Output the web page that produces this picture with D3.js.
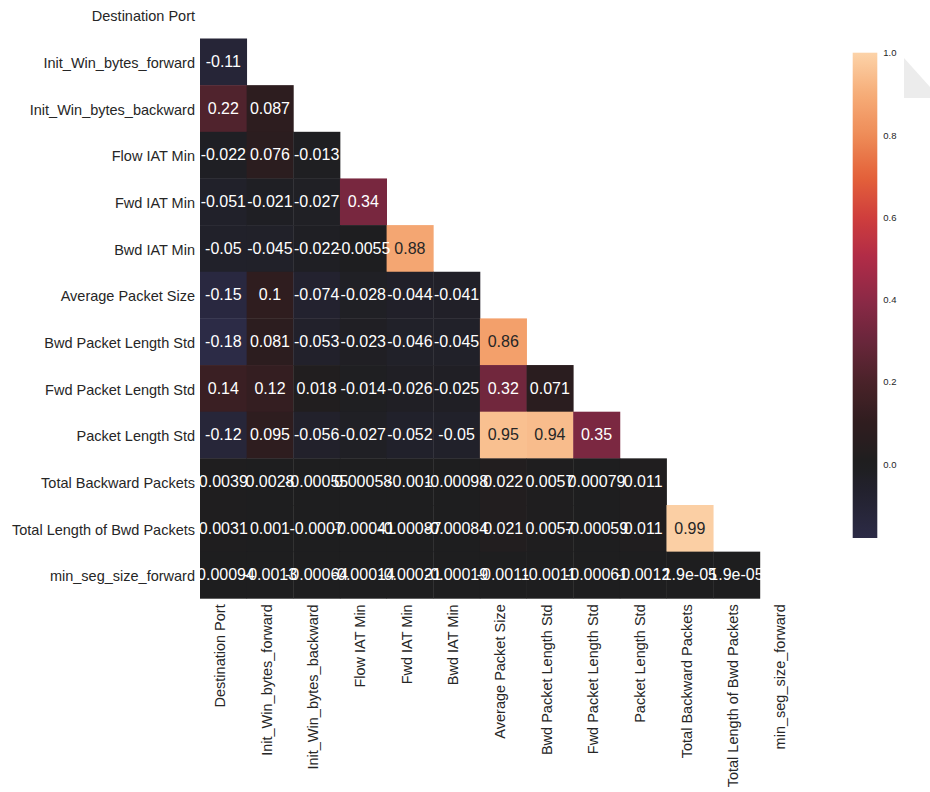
<!DOCTYPE html>
<html>
<head>
<meta charset="utf-8">
<script src="https://cdn.jsdelivr.net/npm/d3@7"></script>
<style>
  html, body { margin: 0; padding: 0; background: #ffffff; }
  svg { display: block; }
  text { font-family: "Liberation Sans", Arial, "DejaVu Sans", sans-serif; }
</style>
</head>
<body>
<svg id="chart" width="930" height="792"></svg>
<script>
// ---------- data ----------
const labels = [
  "Destination Port",
  "Init_Win_bytes_forward",
  "Init_Win_bytes_backward",
  "Flow IAT Min",
  "Fwd IAT Min",
  "Bwd IAT Min",
  "Average Packet Size",
  "Bwd Packet Length Std",
  "Fwd Packet Length Std",
  "Packet Length Std",
  "Total Backward Packets",
  "Total Length of Bwd Packets",
  "min_seg_size_forward"
];

// lower triangle (row i has i values: columns 0..i-1)
const row0 = [];
const row1 = [-0.11];
const row2 = [0.22, 0.087];
const row3 = [-0.022, 0.076, -0.013];
const row4 = [-0.051, -0.021, -0.027, 0.34];
const row5 = [-0.05, -0.045, -0.022, -0.0055, 0.88];
const row6 = [-0.15, 0.1, -0.074, -0.028, -0.044, -0.041];
const row7 = [-0.18, 0.081, -0.053, -0.023, -0.046, -0.045, 0.86];
const row8 = [0.14, 0.12, 0.018, -0.014, -0.026, -0.025, 0.32, 0.071];
const row9 = [-0.12, 0.095, -0.056, -0.027, -0.052, -0.05, 0.95, 0.94, 0.35];
const row10 = [0.0039, 0.0028, -0.00055, 0.00058, -0.001, -0.00098, 0.022, 0.0057, 0.00079, 0.011];
const row11 = [0.0031, 0.001, -0.0007, -0.00041, -0.00087, -0.00084, 0.021, 0.0057, -0.00059, 0.011, 0.99];
const row12 = [-0.00094, -0.0013, -0.00064, -0.00014, -0.00021, -0.00019, -0.0011, -0.0011, -0.00061, -0.0012, 1.9e-05, 1.9e-05];
const rows = [row0, row1, row2, row3, row4, row5, row6, row7, row8, row9, row10, row11, row12];

const colorbarTicks = [0.0, 0.2, 0.4, 0.6, 0.8, 1.0];
const vmin = -0.18, vmax = 1.0;

// colour stops (value -> colour)
const cmapValues = [-0.18, -0.09, 0.0, 0.1, 0.2, 0.3, 0.4, 0.5, 0.6, 0.7, 0.8, 0.9, 1.0];
const cmapColors = ["#2c2b46", "#242333", "#1e1e1f", "#2f1d1f", "#4a2229", "#6a263b",
                    "#8c2946", "#b02b47", "#cf3e3d", "#e4623a", "#ee8c58", "#f6ad78", "#fcd3a9"];

// ---------- helpers ----------
function fmt2g(v) {
  if (v === 0) return "0";
  const ex = v.toExponential(1);
  const parts = ex.split("e");
  const exp = parseInt(parts[1], 10);
  if (exp < -4 || exp >= 2) {
    let m = parts[0];
    if (m.indexOf(".") >= 0) m = m.replace(/0+$/, "").replace(/\.$/, "");
    const sign = exp < 0 ? "-" : "+";
    const a = Math.abs(exp);
    return m + "e" + sign + (a < 10 ? "0" + a : "" + a);
  }
  let s = v.toFixed(Math.max(0, 1 - exp));
  if (s.indexOf(".") >= 0) s = s.replace(/0+$/, "").replace(/\.$/, "");
  return s;
}
function relLum(c) {
  const rgb = d3.rgb(c);
  const f = q => { q = q / 255; return q <= 0.03928 ? q / 12.92 : Math.pow((q + 0.055) / 1.055, 2.4); };
  return 0.2126 * f(rgb.r) + 0.7152 * f(rgb.g) + 0.0722 * f(rgb.b);
}

// ---------- scales ----------
const svg = d3.select("#chart");
const cellSize = 46.65;
const hmLeft = 200, hmBottom = 598.3;
const hmTop = hmBottom - cellSize * labels.length;

const x = d3.scaleBand().domain(labels).range([hmLeft, hmLeft + cellSize * labels.length]).padding(0);
const y = d3.scaleBand().domain(labels).range([hmTop, hmBottom]).padding(0);
const color = d3.scaleLinear().domain(cmapValues).range(cmapColors).interpolate(d3.interpolateRgb).clamp(true);

// ---------- cells ----------
const cells = [];
rows.forEach((r, i) => r.forEach((v, j) => cells.push({ row: labels[i], col: labels[j], v })));

const g = svg.append("g");
g.selectAll("rect.cell").data(cells).enter().append("rect")
  .attr("class", "cell")
  .attr("x", d => x(d.col))
  .attr("y", d => y(d.row))
  .attr("width", x.bandwidth() + 0.4)
  .attr("height", y.bandwidth() + 0.4)
  .attr("fill", d => color(d.v));

g.selectAll("text.annot").data(cells).enter().append("text")
  .attr("class", "annot")
  .attr("x", d => x(d.col) + x.bandwidth() / 2)
  .attr("y", d => y(d.row) + y.bandwidth() / 2)
  .attr("dy", "0.33em")
  .attr("text-anchor", "middle")
  .attr("font-size", "16px")
  .attr("fill", d => relLum(color(d.v)) > 0.408 ? "#262626" : "#ffffff")
  .text(d => fmt2g(d.v));

// ---------- axes ----------
const yAxis = d3.axisLeft(y).tickSize(0).tickPadding(5);
const yg = svg.append("g").attr("transform", `translate(${hmLeft},0)`).call(yAxis);
yg.select(".domain").remove();
yg.selectAll("text")
  .attr("font-size", "14.5px")
  .attr("fill", "#262626")
  .attr("dy", "0.43em")
  .style("font-family", "'Liberation Sans', Arial, sans-serif");

const xAxis = d3.axisBottom(x).tickSize(0).tickPadding(0);
const xg = svg.append("g").attr("transform", `translate(0,${hmBottom})`).call(xAxis);
xg.select(".domain").remove();
xg.selectAll("text")
  .attr("font-size", "14.5px")
  .attr("fill", "#262626")
  .attr("text-anchor", "end")
  .attr("transform", "rotate(-90)")
  .attr("x", -6)
  .attr("y", 0)
  .attr("dy", "0.12em")
  .style("font-family", "'Liberation Sans', Arial, sans-serif");

// ---------- colour bar ----------
const cbX = 852.7, cbW = 24.6, cbTop = 52.7, cbBottom = 538;
const cbScale = d3.scaleLinear().domain([vmin, vmax]).range([cbBottom, cbTop]);
const defs = svg.append("defs");
const grad = defs.append("linearGradient").attr("id", "cbgrad")
  .attr("x1", 0).attr("y1", 1).attr("x2", 0).attr("y2", 0);
d3.range(0, 1.0001, 0.02).forEach(t => {
  const v = vmin + t * (vmax - vmin);
  grad.append("stop").attr("offset", t).attr("stop-color", color(v));
});
svg.append("rect")
  .attr("x", cbX).attr("y", cbTop)
  .attr("width", cbW).attr("height", cbBottom - cbTop)
  .attr("fill", "url(#cbgrad)");

const cbAxis = d3.axisRight(cbScale).tickValues(colorbarTicks).tickFormat(d3.format(".1f")).tickSize(0).tickPadding(6);
const cbg = svg.append("g").attr("transform", `translate(${cbX + cbW},0)`).call(cbAxis);
cbg.select(".domain").remove();
cbg.selectAll("text")
  .attr("font-size", "9.5px")
  .attr("fill", "#262626")
  .style("font-family", "'Liberation Sans', Arial, sans-serif");

// ---------- stray grey shape at the top right ----------
svg.append("polygon")
  .attr("points", "904,58 930,87 930,98 904,98")
  .attr("fill", "#ececec");
</script>
</body>
</html>
